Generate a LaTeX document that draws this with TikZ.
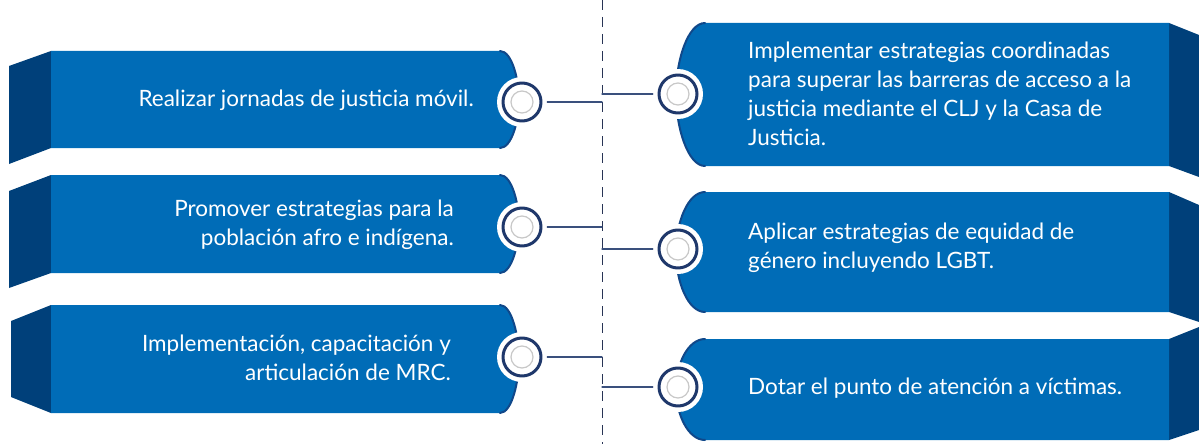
\documentclass[tikz,border=0pt]{standalone}
\usepackage{fontspec}
\setmainfont{Lato}
\usetikzlibrary{positioning}
\definecolor{boxblue}{RGB}{0,108,183}
\definecolor{flapblue}{RGB}{0,64,122}
\definecolor{edgeblue}{RGB}{16,72,138}
\definecolor{ringnavy}{RGB}{31,56,107}
\definecolor{linknavy}{RGB}{58,80,125}
\definecolor{spinenavy}{RGB}{40,52,85}
\definecolor{innergray}{RGB}{200,200,200}

\tikzset{
  boxtext/.style={text=white, font=\fontsize{22.5}{28.8}\selectfont, inner sep=0pt},
  knob/.style={circle, fill=white, minimum size=50pt, inner sep=0pt},
  link/.style={linknavy, line width=1.2pt},
  edge/.style={edgeblue, line width=2pt},
}

\begin{document}
\begin{tikzpicture}[x=1pt, y=-1pt, line join=round, line cap=round]
  \useasboundingbox (0,0) rectangle (1199,444);
  %--- spine
  \coordinate (top) at (602,0);
  \coordinate (bot) at (602,444);
  \draw[spinenavy, line width=1pt, line cap=butt, dash pattern=on 10pt off 7pt] (top) -- (bot);

  %--- left 1
  \fill[flapblue] (51,51) -- (9,66) -- (9,164) -- (51,148) -- cycle;
  \fill[boxblue] (51,51) -- (500,51) .. controls (512,51) and (519,80) .. (519,100)
    .. controls (519,120) and (512,148) .. (500,148) -- (51,148) -- cycle;
  \draw[edge] (500,51) .. controls (512,51) and (519,80) .. (519,100)
    .. controls (519,120) and (512,148) .. (500,148);
  \node[boxtext, anchor=east, align=right] (tL1) at (474,100) {Realizar jornadas de justicia móvil.};
  \node[knob] (kL1) at (522,102) {};
  \draw[ringnavy, line width=3pt] (kL1.center) circle (19pt);
  \draw[innergray, line width=1.2pt] (kL1.center) circle (11pt);

  %--- left 2
  \fill[flapblue] (51,175) -- (9,191) -- (9,288) -- (51,273) -- cycle;
  \fill[boxblue] (51,175) -- (500,175) .. controls (512,175) and (519,204) .. (519,224)
    .. controls (519,244) and (512,273) .. (500,273) -- (51,273) -- cycle;
  \draw[edge] (500,175) .. controls (512,175) and (519,204) .. (519,224)
    .. controls (519,244) and (512,273) .. (500,273);
  \node[boxtext, anchor=east, align=right] (tL2) at (454,225) {Promover estrategias para la\\población afro e indígena.};
  \node[knob] (kL2) at (522,227) {};
  \draw[ringnavy, line width=3pt] (kL2.center) circle (19pt);
  \draw[innergray, line width=1.2pt] (kL2.center) circle (11pt);

  %--- left 3
  \fill[flapblue] (51,305) -- (11,321) -- (11,397) -- (51,413) -- cycle;
  \fill[boxblue] (51,305) -- (500,305) .. controls (512,305) and (519,337) .. (519,359)
    .. controls (519,381) and (512,413) .. (500,413) -- (51,413) -- cycle;
  \draw[edge] (500,305) .. controls (512,305) and (519,337) .. (519,359)
    .. controls (519,381) and (512,413) .. (500,413);
  \node[boxtext, anchor=east, align=right] (tL3) at (451,358) {Implementación, capacitación y\\articulación de MRC.};
  \node[knob] (kL3) at (522,357) {};
  \draw[ringnavy, line width=3pt] (kL3.center) circle (19pt);
  \draw[innergray, line width=1.2pt] (kL3.center) circle (11pt);

  %--- right 1
  \fill[flapblue] (1169,23) -- (1199,35) -- (1199,177) -- (1169,166) -- cycle;
  \fill[boxblue] (1169,23) -- (705,23) .. controls (688,23) and (676,60) .. (676,94)
    .. controls (676,128) and (688,166) .. (705,166) -- (1169,166) -- cycle;
  \draw[edge] (705,23) .. controls (688,23) and (676,60) .. (676,94)
    .. controls (676,128) and (688,166) .. (705,166);
  \node[boxtext, anchor=west, align=left] (tR1) at (748,94) {Implementar estrategias coordinadas\\para superar las barreras de acceso a la\\justicia mediante el CLJ y la Casa de\\Justicia.};
  \node[knob] (kR1) at (678,94) {};
  \draw[ringnavy, line width=3pt] (kR1.center) circle (19pt);
  \draw[innergray, line width=1.2pt] (kR1.center) circle (11pt);

  %--- right 2
  \fill[flapblue] (1169,192) -- (1199,205) -- (1199,322) -- (1169,312) -- cycle;
  \fill[boxblue] (1169,192) -- (705,192) .. controls (688,192) and (676,222) .. (676,252)
    .. controls (676,282) and (688,312) .. (705,312) -- (1169,312) -- cycle;
  \draw[edge] (705,192) .. controls (688,192) and (676,222) .. (676,252)
    .. controls (676,282) and (688,312) .. (705,312);
  \node[boxtext, anchor=west, align=left] (tR2) at (748,248) {Aplicar estrategias de equidad de\\género incluyendo LGBT.};
  \node[knob] (kR2) at (678,249) {};
  \draw[ringnavy, line width=3pt] (kR2.center) circle (19pt);
  \draw[innergray, line width=1.2pt] (kR2.center) circle (11pt);

  %--- right 3
  \fill[flapblue] (1169,339) -- (1199,327) -- (1199,430) -- (1169,440) -- cycle;
  \fill[boxblue] (1169,339) -- (705,339) .. controls (688,339) and (676,364) .. (676,389)
    .. controls (676,414) and (688,440) .. (705,440) -- (1169,440) -- cycle;
  \draw[edge] (705,339) .. controls (688,339) and (676,364) .. (676,389)
    .. controls (676,414) and (688,440) .. (705,440);
  \node[boxtext, anchor=west] (tR3) at (748,388) {Dotar el punto de atención a víctimas.};
  \node[knob] (kR3) at (678,387) {};
  \draw[ringnavy, line width=3pt] (kR3.center) circle (19pt);
  \draw[innergray, line width=1.2pt] (kR3.center) circle (11pt);

  %--- links
  \draw[link] (kL1.east) -- (kL1 -| top);
  \draw[link] (kL2.east) -- (kL2 -| top);
  \draw[link] (kL3.east) -- (kL3 -| top);
  \draw[link] (kR1 -| top) -- (kR1.west);
  \draw[link] (kR2 -| top) -- (kR2.west);
  \draw[link] (kR3 -| top) -- (kR3.west);
\end{tikzpicture}
\end{document}
